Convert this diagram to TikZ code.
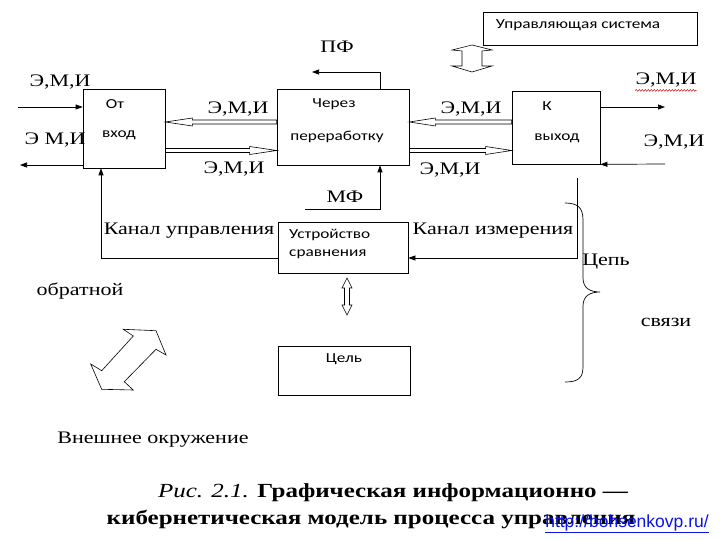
\documentclass[tikz,border=0pt]{standalone}
\usepackage{fontspec}
\setmainfont[FakeStretch=1.25]{Liberation Serif}
\newfontfamily\boxfont[FakeStretch=1.25]{Carlito}
\newfontfamily\urlfont{Liberation Sans}
\usetikzlibrary{arrows.meta,calc,decorations.pathmorphing}
\definecolor{urlblue}{RGB}{10,20,230}
\begin{document}
\begin{tikzpicture}[x=1pt,y=-1pt,
  box/.style={draw,line width=0.7pt,inner sep=0pt},
  lbl/.style={font=\fontsize{17.6}{20}\selectfont,inner sep=0pt},
  btxt/.style={font=\boxfont\fontsize{13.8}{16}\selectfont,inner sep=0pt},
  conn/.style={line width=0.7pt,-{Triangle[length=7pt,width=5pt]}},
  blk/.style={line width=0.6pt,line join=miter}]
\useasboundingbox (0,0) rectangle (720,540);
\fill[white] (0,0) rectangle (720,540);

% labels drawn first
\node[lbl] (e1) at (60,82) {Э,М,И};
\node[lbl] (e2) at (55,140) {Э М,И};
\node[lbl] (e3) at (238,109) {Э,М,И};
\node[lbl] (e4) at (234,169) {Э,М,И};
\node[lbl] (e5) at (471,109) {Э,М,И};
\node[lbl] (e6) at (450,170) {Э,М,И};
\node[lbl] (e7) at (666,80) {Э,М,И};
\node[lbl] (e8) at (674,142) {Э,М,И};
\draw[red!80!black,line width=0.5pt,decorate,decoration={snake,amplitude=0.8pt,segment length=3pt}] ($(e7.south west)+(0,3)$) -- ($(e7.south east)+(0,3)$);
\node[lbl] (pf) at (337,47) {ПФ};
\node[lbl] (mf) at (345,197) {МФ};
\node[lbl] (ku) at (189,231) {Канал управления};
\node[lbl] (ki) at (493,231) {Канал измерения};
\node[lbl] (cep) at (606,262) {Цепь};
\node[lbl] (obr) at (80,291) {обратной};
\node[lbl] (svz) at (666,322) {связи};
\node[lbl] (vnesh) at (153,440) {Внешнее окружение};

% boxes
\node[box,minimum width=82pt,minimum height=79pt] (ot) at (124,128.5) {};
\node[box,minimum width=132pt,minimum height=76pt] (cherez) at (343,127) {};
\node[box,minimum width=88pt,minimum height=73pt] (kv) at (556,127.5) {};
\node[box,minimum width=214pt,minimum height=33pt] (upr) at (590,28.5) {};
\node[box,minimum width=130pt,minimum height=51pt] (ustr) at (343,247.5) {};
\node[box,minimum width=132pt,minimum height=49pt] (cel) at (344,370.5) {};

% box texts
\node[btxt] (t1) at (115,104) {От};
\node[btxt] (t2) at (119,135) {вход};
\node[btxt] (t3) at (334,104) {Через};
\node[btxt] (t4) at (337,137) {переработку};
\node[btxt] (t5) at (547,106) {К};
\node[btxt] (t6) at (557,138) {выход};
\node[btxt] (t7) at (578,25) {Управляющая система};
\node[btxt,anchor=west] (t8) at (289,235) {Устройство};
\node[btxt,anchor=west] (t9) at (289,254) {сравнения};
\node[btxt] (t10) at (344,359) {Цель};

% simple connectors
\coordinate (inL) at (18,107);
\coordinate (outL) at (20,165);
\coordinate (outR) at (665,107);
\coordinate (inR) at (665,164);
\draw[conn] (inL) -- (ot.west |- inL);
\draw[conn] (ot.west |- outL) -- (outL);
\draw[conn] (kv.east |- outR) -- (outR);
\draw[conn] (inR) -- (kv.south east);
\coordinate (pfend) at (312,72);
\draw[conn] (cherez.north -| 380,0) -- (380,72) -- (pfend);
\coordinate (mfstart) at (305,209);
\draw[conn] (mfstart) -- (380,209) -- (cherez.south -| 380,0);
\draw[conn] (ustr.west |- 0,258) -- (101,258) -- (ot.south -| 101,0);
\coordinate (meas) at (577,178);
\draw[conn] (meas) -- (577,258) -- (ustr.east |- 0,258);

% hollow block arrows
\draw[blk] (ot.east |- 0,122) -- ++(27,-4) -- ++(0,2) -- (cherez.west |- 0,120) -- (cherez.west |- 0,124) -- ($(ot.east |- 0,122)+(27,2)$) -- ++(0,2) -- cycle;
\draw[blk] (cherez.west |- 0,150.5) -- ++(-27,-4) -- ++(0,2) -- (ot.east |- 0,148.5) -- (ot.east |- 0,152.5) -- ($(cherez.west |- 0,150.5)+(-27,2)$) -- ++(0,2) -- cycle;
\draw[blk] (cherez.east |- 0,122) -- ++(26,-4) -- ++(0,2) -- (kv.west |- 0,120) -- (kv.west |- 0,124) -- ($(cherez.east |- 0,122)+(26,2)$) -- ++(0,2) -- cycle;
\draw[blk] (kv.west |- 0,150.5) -- ++(-26,-4) -- ++(0,2) -- (cherez.east |- 0,148.5) -- (cherez.east |- 0,152.5) -- ($(kv.west |- 0,150.5)+(-26,2)$) -- ++(0,2) -- cycle;

% double arrow under control system
\draw[blk] (472,45) -- (492,50) -- (482,51) -- (482,66) -- (492,66) -- (472,72) -- (452,66) -- (462,66) -- (462,51) -- (452,50) -- cycle;
% small double arrow between comparator and goal
\draw[blk] (347,278) -- (352,288) -- (349.5,288) -- (349.5,305) -- (352,305) -- (347,315) -- (342,305) -- (344.5,305) -- (344.5,288) -- (342,288) -- cycle;
% diagonal double arrow
\draw[blk] (123.3,329.3) -- (156,330.7) -- (166,355) -- (156,349.3) -- (124.3,381.7) -- (133.3,390) -- (101.7,389.3) -- (90.7,364) -- (101.7,370.7) -- (133.3,336) -- cycle;

% brace
\draw[line width=0.7pt] (565,203) .. controls (578,203) and (583,208) .. (583,220) -- (583,278) .. controls (583,288) and (590,292) .. (600,292) .. controls (590,292) and (583,296) .. (583,306) -- (583,367) .. controls (583,378) and (578,382) .. (565,382);

% caption
\node[font=\fontsize{20}{24}\selectfont\bfseries,inner sep=0pt] (cap1) at (393,493) {{\normalfont\itshape Рис. 2.1.} Графическая информационно —};
\node[font=\fontsize{20}{24}\selectfont\bfseries,inner sep=0pt] (cap2) at (371,519) {кибернетическая модель процесса управления};
\node[font=\urlfont\fontsize{17.5}{19}\selectfont,text=urlblue,inner sep=0pt] (url) at (627,524) {\underline{http://bohsenkovp.ru/}};
\end{tikzpicture}
\end{document}
